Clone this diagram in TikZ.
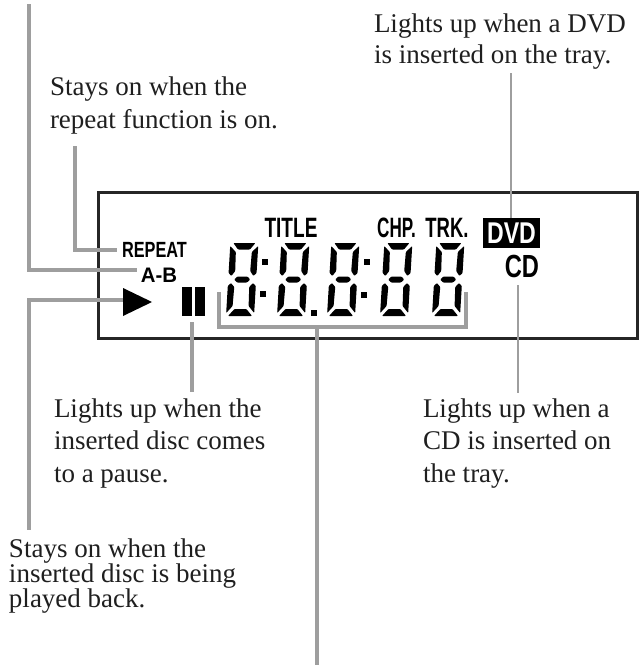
\documentclass[tikz,border=0pt]{standalone}
\usepackage{fontspec}
\setmainfont{Liberation Serif}
\newfontfamily\lcdfont{Liberation Sans}
\definecolor{leadergray}{gray}{0.62}
\tikzset{
  x=1pt,y=-1pt,
  note/.style={anchor=base west,inner sep=0pt,outer sep=0pt,font=\fontsize{27}{27}\selectfont,text=black!88},
  lcdtext/.style={inner sep=0pt,outer sep=0pt,font=\lcdfont\bfseries},
  leader/.style={draw=leadergray,line width=3.6pt,line join=miter},
  thinleader/.style={draw=leadergray,line width=2.4pt},
  frame/.style={draw=black!85,line width=3pt},
  seg/.style={fill=black,draw=none,rounded corners=0.8pt},
}
\newcommand{\lcddigit}[1]{%
  \begin{scope}[shift={(#1,316)},yscale=-1,xslant=-0.06]
    \fill[seg] (3,73)--(25,73)--(20,66.5)--(8,66.5)--cycle;
    \fill[seg] (2,0)--(26,0)--(20,7)--(8,7)--cycle;
    \fill[seg] (6,36.5)--(9,39.5)--(19,39.5)--(22,36.5)--(19,33.5)--(9,33.5)--cycle;
    \fill[seg] (0,70)--(6,64)--(6.5,45)--(3,40)--(0,43)--cycle;
    \fill[seg] (28,70)--(22,64)--(21.5,45)--(25,40)--(28,43)--cycle;
    \fill[seg] (0,30)--(3,33)--(6.5,29)--(6,10)--(0,3)--cycle;
    \fill[seg] (28,30)--(25,33)--(21.5,29)--(22,10)--(28,3)--cycle;
  \end{scope}}
\newcommand{\lcddot}[2]{\fill[black] (#1-3,#2-3) rectangle (#1+3,#2+3);}
\begin{document}
\begin{tikzpicture}
\useasboundingbox (0,0) rectangle (642,665);
\fill[white] (0,0) rectangle (642,665);

% anchors of the callouts
\coordinate (abtop) at (29,4);
\coordinate (abcorner) at (29,270);
\coordinate (abend) at (137,270);
\coordinate (reptop) at (75,146);
\coordinate (repcorner) at (75,250);
\coordinate (repend) at (117,250);
\coordinate (playend) at (128,300);
\coordinate (playcorner) at (29,300);
\coordinate (playbot) at (29,530);
\coordinate (pausetop) at (192,322);
\coordinate (pausebot) at (192,392);
\coordinate (brl) at (219,292);
\coordinate (brbl) at (219,327);
\coordinate (brbr) at (466,327);
\coordinate (brr) at (466,292);
\coordinate (stemtop) at (317,327);
\coordinate (stembot) at (317,665);
\coordinate (dvdtop) at (511,73);
\coordinate (dvdbot) at (511,221);
\coordinate (cdtop) at (518,285);
\coordinate (cdbot) at (518,393);

% frame
\node[frame,draw,inner sep=0pt,minimum width=539pt,minimum height=146pt] (lcd) at (367.5,265) {};

% leaders
\draw[leader] (abtop) -- (abcorner) -- (abend);
\draw[leader] (reptop) -- (repcorner) -- (repend);
\draw[leader] (playend) -- (playcorner) -- (playbot);
\draw[leader] (pausetop) -- (pausebot);
\draw[leader] (brl) -- (brbl) -- (brbr) -- (brr);
\draw[leader] (stemtop) -- (stembot);
\draw[thinleader] (dvdtop) -- (dvdbot);
\draw[thinleader] (cdtop) -- (cdbot);

% play and pause symbols
\fill[black] (123,288) -- (152,302) -- (123,316) -- cycle;
\fill[black] (182,287) rectangle (192,316);
\fill[black] (195,287) rectangle (205,316);

% digits
\lcddigit{226}\lcddigit{277}\lcddigit{327}\lcddigit{380}\lcddigit{432}
\lcddot{265}{262}\lcddot{263}{294}
\lcddot{367}{262}\lcddot{364}{295}
\lcddot{314}{313}

% display labels
\node[lcdtext] (repeat) at (154.5,250) {\fontsize{22}{22}\selectfont\scalebox{0.74}[1]{REPEAT}};
\node[lcdtext] (ab) at (159,275) {\fontsize{21}{21}\selectfont\scalebox{0.97}[1]{A-B}};
\node[lcdtext] (title) at (291,228) {\fontsize{28}{28}\selectfont\scalebox{0.68}[1]{TITLE}};
\node[lcdtext] (chp) at (396.5,228) {\fontsize{28}{28}\selectfont\scalebox{0.61}[1]{CHP.}};
\node[lcdtext] (trk) at (447,228) {\fontsize{28}{28}\selectfont\scalebox{0.66}[1]{TRK.}};
\node[fill=black,inner sep=0pt,minimum width=57pt,minimum height=30pt,text=white,font=\lcdfont\bfseries] (dvd) at (511.5,233) {\fontsize{30}{30}\selectfont\scalebox{0.77}[1]{DVD}};
\node[lcdtext] (cd) at (522,266.5) {\fontsize{32}{32}\selectfont\scalebox{0.74}[1]{CD}};

% notes
\node[note] (n1a) at (374,32) {Lights up when a DVD};
\node[note] (n1b) at (374,63) {is inserted on the tray.};
\node[note] (n2a) at (50,95) {Stays on when the};
\node[note] (n2b) at (50,128) {repeat function is on.};
\node[note] (n3a) at (54,417) {Lights up when the};
\node[note] (n3b) at (54,449) {inserted disc comes};
\node[note] (n3c) at (54,482) {to a pause.};
\node[note] (n4a) at (423,417) {Lights up when a};
\node[note] (n4b) at (423,449) {CD is inserted on};
\node[note] (n4c) at (423,482) {the tray.};
\node[note] (n5a) at (9,557) {Stays on when the};
\node[note] (n5b) at (9,582) {inserted disc is being};
\node[note] (n5c) at (9,607) {played back.};
\end{tikzpicture}
\end{document}
